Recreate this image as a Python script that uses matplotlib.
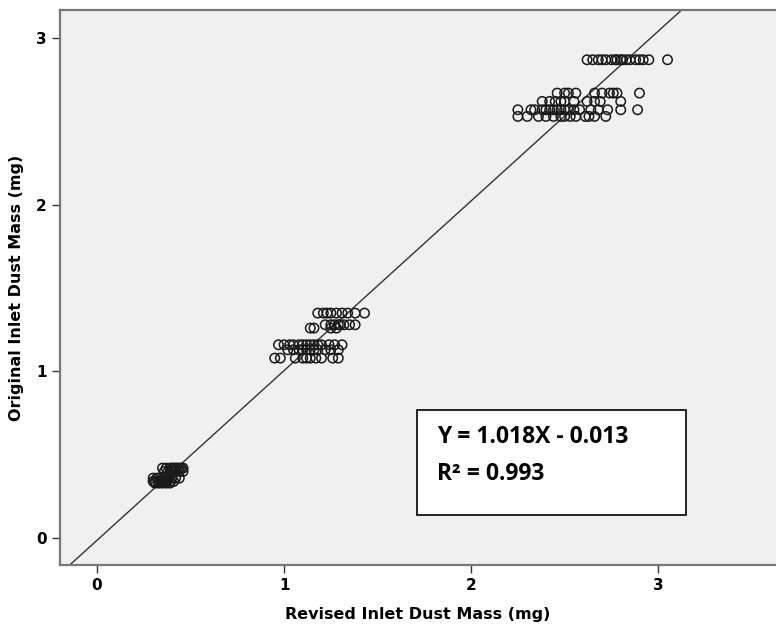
import numpy as np
import matplotlib.pyplot as plt

# y level -> revised x values
levels_y = [2.87, 2.67, 2.62, 2.57, 2.53,
            1.35, 1.28, 1.26, 1.16, 1.13, 1.08,
            0.42, 0.40, 0.36, 0.34, 0.33]
levels_x = [
    [2.62, 2.65, 2.68, 2.70, 2.72, 2.75, 2.77, 2.78, 2.80, 2.81, 2.83, 2.85, 2.88, 2.90, 2.92, 2.95, 3.05],
    [2.46, 2.50, 2.52, 2.56, 2.66, 2.70, 2.74, 2.76, 2.78, 2.90],
    [2.38, 2.42, 2.45, 2.48, 2.50, 2.55, 2.62, 2.66, 2.69, 2.80],
    [2.25, 2.32, 2.34, 2.38, 2.40, 2.42, 2.44, 2.46, 2.48, 2.50, 2.52, 2.55, 2.58, 2.64, 2.68, 2.73, 2.80, 2.89],
    [2.25, 2.30, 2.36, 2.40, 2.44, 2.48, 2.50, 2.53, 2.56, 2.61, 2.63, 2.66, 2.72],
    [1.18, 1.21, 1.23, 1.25, 1.28, 1.31, 1.34, 1.38, 1.43],
    [1.22, 1.25, 1.27, 1.29, 1.30, 1.32, 1.35, 1.38],
    [1.14, 1.16, 1.25, 1.28],
    [0.97, 1.00, 1.03, 1.05, 1.08, 1.10, 1.12, 1.14, 1.16, 1.18, 1.20, 1.24, 1.27, 1.31],
    [1.02, 1.05, 1.08, 1.10, 1.12, 1.14, 1.16, 1.18, 1.22, 1.25, 1.29],
    [0.95, 0.98, 1.06, 1.10, 1.12, 1.14, 1.17, 1.20, 1.26, 1.29],
    [0.35, 0.37, 0.39, 0.40, 0.41, 0.42, 0.43, 0.44, 0.45, 0.46],
    [0.36, 0.38, 0.40, 0.42, 0.44, 0.46],
    [0.30, 0.32, 0.33, 0.35, 0.36, 0.38, 0.40, 0.42, 0.44],
    [0.30, 0.31, 0.33, 0.34, 0.36, 0.37, 0.39, 0.41],
    [0.31, 0.33, 0.35, 0.37, 0.39],
]
slope = 1.018
intercept = -0.013
ticks = [0, 1, 2, 3]

xs = np.concatenate([np.array(v) for v in levels_x])
ys = np.concatenate([np.full(len(v), y) for v, y in zip(levels_x, levels_y)])

fig = plt.figure(figsize=(7.76, 6.3), dpi=100)
ax = fig.add_axes([0.0773, 0.103, 0.9227, 0.881])
ax.set_facecolor('#f0f0f0')

ax.scatter(xs, ys, s=46, facecolors='none', edgecolors='#1a1a1a', linewidths=1.1, zorder=3)

xl = np.array([-0.2, 3.7])
ax.plot(xl, slope * xl + intercept, color='#333333', lw=1.0, zorder=2)

ax.set_xlim(-0.198, 3.63)
ax.set_ylim(-0.162, 3.168)
ax.set_xticks(ticks)
ax.set_yticks(ticks)
ax.tick_params(direction='out', length=6, width=1, color='#333333', labelsize=11)
for lab in ax.get_xticklabels() + ax.get_yticklabels():
    lab.set_fontweight('bold')

for side in ['left', 'bottom', 'top']:
    ax.spines[side].set_color('#777777')
    ax.spines[side].set_linewidth(1.6)
ax.spines['right'].set_visible(False)

ax.set_xlabel('Revised Inlet Dust Mass (mg)', fontweight='bold', fontsize=11.5, labelpad=10)
ax.set_ylabel('Original Inlet Dust Mass (mg)', fontweight='bold', fontsize=11.5, labelpad=9)

box = plt.Rectangle((0.499, 0.09), 0.375, 0.189, transform=ax.transAxes,
                    facecolor='white', edgecolor='black', lw=1.2, zorder=4)
ax.add_patch(box)
ax.text(0.527, 0.23, 'Y = 1.018X - 0.013', transform=ax.transAxes, fontsize=16.5,
        fontweight='bold', family='Open Sans', va='center', zorder=5)
ax.text(0.527, 0.165, 'R² = 0.993', transform=ax.transAxes, fontsize=16.5,
        fontweight='bold', family='Open Sans', va='center', zorder=5)

fig.savefig('out.png', dpi=100)
